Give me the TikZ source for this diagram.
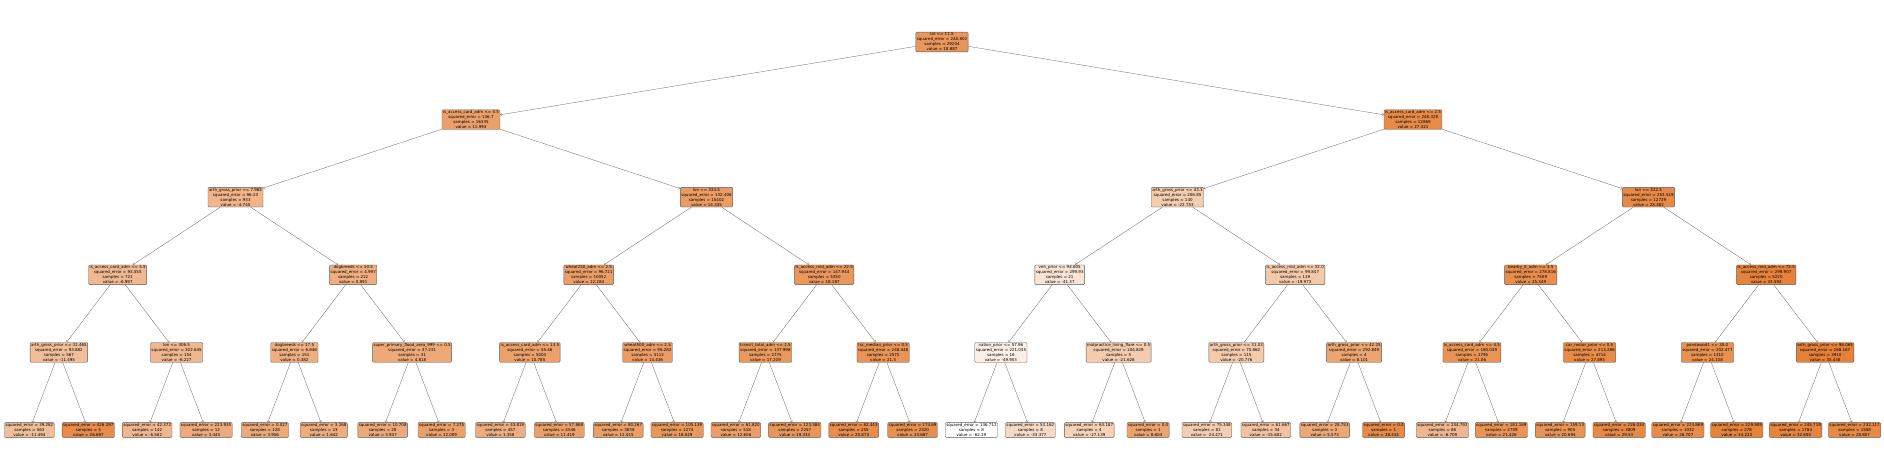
\documentclass[tikz,border=0pt]{standalone}
\usepackage{fontspec}
\setmainfont{DejaVu Sans}
\usepackage{tikz}
\usetikzlibrary{arrows}
\definecolor{treeorange}{RGB}{229,129,57}
\tikzstyle{split} = [rectangle, rounded corners=1pt, draw=black!65, line width=0.35pt, inner xsep=1pt, inner ysep=0.8pt, align=center, font=\fontsize{4}{5}\selectfont]
\tikzstyle{leaf} = [split]
\tikzstyle{edge} = [->, draw=black!60, line width=0.3pt, shorten >=0.2pt]
% fill after the node value, white (lowest) to orange (highest)
\tikzset{val/.code={%
  \pgfmathsetmacro\nodepct{max(0,min(100,(#1+62.19)/(35.438+62.19)*100))}%
  \edef\tmpfill{\noexpand\pgfkeysalso{fill=treeorange!\nodepct!white}}\tmpfill}}

\begin{document}
\begin{tikzpicture}[x=1pt, y=-1pt]
        \useasboundingbox[fill=white] (0,0) rectangle (1884,472);

        % depth 0 and 1
        \node[split, val=18.887] (root) at (942,42) {lat <= 11.5\\squared\_error = 248.802\\samples = 29204\\value = 18.887};
        \node[split, val=11.993] (n1) at (471,119.6) {is\_access\_card\_adm <= 0.5\\squared\_error = 136.7\\samples = 16335\\value = 11.993};
        \node[split, val=27.321] (n2) at (1413,119.6) {is\_access\_card\_adm <= 2.5\\squared\_error = 248.328\\samples = 12869\\value = 27.321};

        % depth 2
        \node[split, val=-4.745] (n11) at (235.5,197.2) {arth\_gross\_prior <= 7.965\\squared\_error = 96.23\\samples = 933\\value = -4.745};
        \node[split, val=14.335] (n12) at (706.5,197.2) {lon <= 334.5\\squared\_error = 132.406\\samples = 15402\\value = 14.335};
        \node[split, val=-22.753] (n21) at (1177.5,197.2) {arth\_gross\_prior <= 43.3\\squared\_error = 206.85\\samples = 140\\value = -22.753};
        \node[split, val=28.482] (n22) at (1648.5,197.2) {lon <= 322.5\\squared\_error = 253.519\\samples = 12729\\value = 28.482};

        % depth 3
        \node[split, val=-6.997] (n111) at (117.7,274.8) {is\_access\_card\_adm <= 4.5\\squared\_error = 93.555\\samples = 721\\value = -6.997};
        \node[split, val=0.891] (n112) at (353.2,274.8) {dogbreeds <= 10.5\\squared\_error = 4.997\\samples = 212\\value = 0.891};
        \node[split, val=12.284] (n121) at (588.7,274.8) {wheat250\_adm <= 2.5\\squared\_error = 96.721\\samples = 10052\\value = 12.284};
        \node[split, val=18.187] (n122) at (824.2,274.8) {is\_access\_mid\_adm <= 22.5\\squared\_error = 147.944\\samples = 5350\\value = 18.187};
        \node[split, val=-41.37] (n211) at (1059.7,274.8) {veh\_prior <= 94.605\\squared\_error = 299.93\\samples = 21\\value = -41.37};
        \node[split, val=-19.973] (n212) at (1295.2,274.8) {is\_access\_mid\_adm <= 32.0\\squared\_error = 99.847\\samples = 119\\value = -19.973};
        \node[split, val=25.349] (n221) at (1530.7,274.8) {bearby\_lt\_adm <= 3.5\\squared\_error = 278.816\\samples = 7509\\value = 25.349};
        \node[split, val=33.594] (n222) at (1766.2,274.8) {is\_access\_mid\_adm <= 75.5\\squared\_error = 299.907\\samples = 5220\\value = 33.594};

        % depth 4
        \node[split, val=-11.495] (m0) at (58.9,352.4) {arth\_gross\_prior <= 31.465\\squared\_error = 93.882\\samples = 567\\value = -11.495};
        \node[split, val=-6.227] (m1) at (176.6,352.4) {lon <= 306.5\\squared\_error = 302.645\\samples = 154\\value = -6.227};
        \node[split, val=0.382] (m2) at (294.4,352.4) {dogbreeds <= 17.5\\squared\_error = 6.846\\samples = 151\\value = 0.382};
        \node[split, val=4.818] (m3) at (412.1,352.4) {super\_primary\_flood\_area\_999 <= 0.5\\squared\_error = 37.231\\samples = 31\\value = 4.818};
        \node[split, val=10.785] (m4) at (529.9,352.4) {is\_access\_card\_adm <= 13.5\\squared\_error = 55.46\\samples = 5003\\value = 10.785};
        \node[split, val=14.436] (m5) at (647.6,352.4) {wheat500\_adm <= 2.5\\squared\_error = 96.283\\samples = 5112\\value = 14.436};
        \node[split, val=17.209] (m6) at (765.4,352.4) {transit\_total\_adm <= 2.5\\squared\_error = 137.998\\samples = 2775\\value = 17.209};
        \node[split, val=21.3] (m7) at (883.1,352.4) {tsc\_median\_prior <= 0.5\\squared\_error = 248.448\\samples = 2575\\value = 21.3};
        \node[split, val=-49.903] (m8) at (1000.9,352.4) {nation\_prior <= 57.96\\squared\_error = 221.035\\samples = 16\\value = -49.903};
        \node[split, val=-21.628] (m9) at (1118.6,352.4) {malpractice\_living\_flare <= 0.5\\squared\_error = 104.829\\samples = 5\\value = -21.628};
        \node[split, val=-20.776] (m10) at (1236.4,352.4) {arth\_gross\_prior <= 31.03\\squared\_error = 75.862\\samples = 115\\value = -20.776};
        \node[split, val=8.101] (m11) at (1354.1,352.4) {arth\_gross\_prior <= 42.25\\squared\_error = 292.849\\samples = 4\\value = 8.101};
        \node[split, val=21.06] (m12) at (1471.9,352.4) {is\_access\_card\_adm <= 4.5\\squared\_error = 180.039\\samples = 2795\\value = 21.06};
        \node[split, val=27.893] (m13) at (1589.6,352.4) {car\_motor\_prior <= 0.5\\squared\_error = 213.286\\samples = 4714\\value = 27.893};
        \node[split, val=24.108] (m14) at (1707.4,352.4) {pondwood1 <= 35.0\\squared\_error = 202.477\\samples = 1310\\value = 24.108};
        \node[split, val=35.438] (m15) at (1825.1,352.4) {arth\_gross\_prior <= 96.065\\squared\_error = 268.167\\samples = 3910\\value = 35.438};

        % depth 5, leaves
        \node[leaf, val=-11.494] (l0) at (29.4,430) {squared\_error = 39.282\\samples = 563\\value = -11.494};
        \node[leaf, val=26.697] (l1) at (88.3,430) {squared\_error = 426.297\\samples = 4\\value = 26.697};
        \node[leaf, val=-6.582] (l2) at (147.2,430) {squared\_error = 42.372\\samples = 142\\value = -6.582};
        \node[leaf, val=3.443] (l3) at (206.1,430) {squared\_error = 223.935\\samples = 12\\value = 3.443};
        \node[leaf, val=3.956] (l4) at (264.9,430) {squared\_error = 0.027\\samples = 128\\value = 3.956};
        \node[leaf, val=1.642] (l5) at (323.8,430) {squared\_error = 3.268\\samples = 23\\value = 1.642};
        \node[leaf, val=3.937] (l6) at (382.7,430) {squared\_error = 10.708\\samples = 28\\value = 3.937};
        \node[leaf, val=12.009] (l7) at (441.6,430) {squared\_error = 7.275\\samples = 3\\value = 12.009};
        \node[leaf, val=1.358] (l8) at (500.4,430) {squared\_error = 43.819\\samples = 457\\value = 1.358};
        \node[leaf, val=11.419] (l9) at (559.3,430) {squared\_error = 57.868\\samples = 4546\\value = 11.419};
        \node[leaf, val=12.415] (l10) at (618.2,430) {squared\_error = 80.267\\samples = 3838\\value = 12.415};
        \node[leaf, val=18.049] (l11) at (677.1,430) {squared\_error = 105.139\\samples = 1274\\value = 18.049};
        \node[leaf, val=12.606] (l12) at (735.9,430) {squared\_error = 61.820\\samples = 518\\value = 12.606};
        \node[leaf, val=19.333] (l13) at (794.8,430) {squared\_error = 123.384\\samples = 2257\\value = 19.333};
        \node[leaf, val=25.873] (l14) at (853.7,430) {squared\_error = 82.343\\samples = 255\\value = 25.873};
        \node[leaf, val=23.687] (l15) at (912.6,430) {squared\_error = 174.69\\samples = 2320\\value = 23.687};
        \node[leaf, val=-62.19] (l16) at (971.4,430) {squared\_error = 136.712\\samples = 8\\value = -62.19};
        \node[leaf, val=-33.377] (l17) at (1030.3,430) {squared\_error = 53.162\\samples = 8\\value = -33.377};
        \node[leaf, val=-27.139] (l18) at (1089.2,430) {squared\_error = 63.187\\samples = 4\\value = -27.139};
        \node[leaf, val=8.604] (l19) at (1148.1,430) {squared\_error = 0.0\\samples = 1\\value = 8.604};
        \node[leaf, val=-24.471] (l20) at (1206.9,430) {squared\_error = 75.348\\samples = 81\\value = -24.471};
        \node[leaf, val=-15.602] (l21) at (1265.8,430) {squared\_error = 61.667\\samples = 34\\value = -15.602};
        \node[leaf, val=5.573] (l22) at (1324.7,430) {squared\_error = 28.753\\samples = 3\\value = 5.573};
        \node[leaf, val=28.434] (l23) at (1383.6,430) {squared\_error = 0.0\\samples = 1\\value = 28.434};
        \node[leaf, val=-6.709] (l24) at (1442.4,430) {squared\_error = 234.792\\samples = 86\\value = -6.709};
        \node[leaf, val=21.426] (l25) at (1501.3,430) {squared\_error = 181.169\\samples = 2709\\value = 21.426};
        \node[leaf, val=20.694] (l26) at (1560.2,430) {squared\_error = 159.13\\samples = 905\\value = 20.694};
        \node[leaf, val=29.53] (l27) at (1619.1,430) {squared\_error = 226.034\\samples = 3809\\value = 29.53};
        \node[leaf, val=26.707] (l28) at (1677.9,430) {squared\_error = 223.869\\samples = 1032\\value = 26.707};
        \node[leaf, val=34.223] (l29) at (1736.8,430) {squared\_error = 229.909\\samples = 278\\value = 34.223};
        \node[leaf, val=32.693] (l30) at (1795.7,430) {squared\_error = 245.719\\samples = 1784\\value = 32.693};
        \node[leaf, val=28.807] (l31) at (1854.6,430) {squared\_error = 232.117\\samples = 1508\\value = 28.807};

        % connectors
        \draw [edge] (root) -- (n1);
        \draw [edge] (root) -- (n2);
        \foreach \p in {n1, n2} {
            \draw [edge] (\p) -- (\p1);
            \draw [edge] (\p) -- (\p2);
        }
        \foreach \p in {n11, n12, n21, n22} {
            \draw [edge] (\p) -- (\p1);
            \draw [edge] (\p) -- (\p2);
        }
        \foreach \p [count=\i from 0] in {n111, n112, n121, n122, n211, n212, n221, n222} {
            \pgfmathtruncatemacro\a{2*\i}
            \pgfmathtruncatemacro\b{2*\i+1}
            \draw [edge] (\p) -- (m\a);
            \draw [edge] (\p) -- (m\b);
        }
        \foreach \i in {0,...,15} {
            \pgfmathtruncatemacro\a{2*\i}
            \pgfmathtruncatemacro\b{2*\i+1}
            \draw [edge] (m\i) -- (l\a);
            \draw [edge] (m\i) -- (l\b);
        }

    \end{tikzpicture}
\end{document}
